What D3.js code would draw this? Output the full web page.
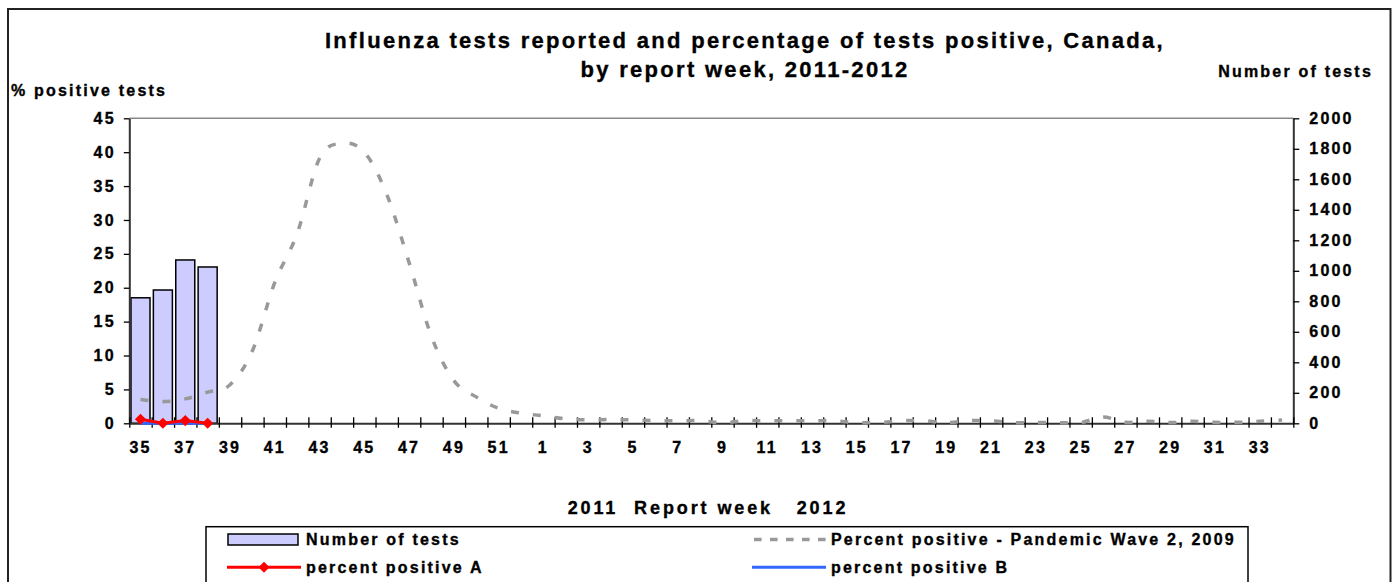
<!DOCTYPE html>
<html>
<head>
<meta charset="utf-8">
<script src="https://cdn.jsdelivr.net/npm/d3@7"></script>
<style>
    body { margin: 0; background: #fff; }
    text { font-family: "Liberation Sans", Arial, sans-serif; font-weight: bold; fill: #000; letter-spacing: 2.2px;
        stroke: #000; stroke-width: 0.35px; }
</style>
</head>
<body>
<script>
// report weeks, 2011 (35-52) then 2012 (1-34)
var weeks = [35, 36, 37, 38, 39, 40, 41, 42, 43, 44, 45, 46, 47, 48, 49, 50, 51, 52,
    1, 2, 3, 4, 5, 6, 7, 8, 9, 10, 11, 12, 13, 14, 15, 16, 17, 18, 19, 20,
    21, 22, 23, 24, 25, 26, 27, 28, 29, 30, 31, 32, 33, 34];
var weekLabels = [35, 37, 39, 41, 43, 45, 47, 49, 51, 1, 3, 5, 7, 9, 11, 13, 15, 17,
    19, 21, 23, 25, 27, 29, 31, 33];
// only the first four weeks are reported so far
var numTests = [823, 874, 1071, 1025];
var pctA = [0.6, 0, 0.4, 0];
var pctB = [0, 0, 0, 0];
var pandemic2009 = [3.5, 3.2, 3.6, 4.6, 5.7, 10.7, 20.8, 28.0, 39.1, 41.3, 40.0, 33.8, 23.7, 12.8, 6.3, 3.9, 2.2, 1.5,
    1.1, 0.65, 0.5, 0.55, 0.5, 0.4, 0.38, 0.38, 0.1, 0.38, 0.38, 0.38, 0.38, 0.38, 0.1, 0.1, 0.38, 0.38, 0.1,
    0.38, 0.38, 0.1, 0.1, 0.1, 0.1, 0.93, 0.15, 0.3, 0.1, 0.3, 0.15, 0.15, 0.3, 0.5];
var leftTicks = [0, 5, 10, 15, 20, 25, 30, 35, 40, 45];
var rightTicks = [0, 200, 400, 600, 800, 1000, 1200, 1400, 1600, 1800, 2000];

window.onload = function () {
    var width = 1393;
    var height = 582;
    var plot = {left: 129.3, right: 1293.3, top: 118.3, bottom: 423.3};

    var svg = d3.select("body")
        .append("svg")
        .attr("width", width)
        .attr("height", height);

    // chart frame
    svg.append("rect")
        .attr("x", 8).attr("y", 9)
        .attr("width", 1382.5).attr("height", 620)
        .style("fill", "none").style("stroke", "#222").style("stroke-width", 2);

    var x = d3.scaleBand()
        .domain(weeks)
        .range([plot.left, plot.right])
        .paddingInner(0.15)
        .paddingOuter(0.075);
    var xi = d3.scaleLinear().domain([0, weeks.length]).range([plot.left, plot.right]);
    var yLeft = d3.scaleLinear().domain([0, 45]).range([plot.bottom, plot.top]);
    var yRight = d3.scaleLinear().domain([0, 2000]).range([plot.bottom, plot.top]);
    var cx = function (i) { return x(weeks[i]) + x.bandwidth() / 2; };

    // top border of plot area
    svg.append("line")
        .attr("x1", plot.left).attr("x2", plot.right)
        .attr("y1", plot.top).attr("y2", plot.top)
        .style("stroke", "#888").style("stroke-width", 1.5);

    // bars
    svg.selectAll("rect.bar")
        .data(numTests)
        .enter()
        .append("rect")
        .attr("class", "bar")
        .attr("x", function (d, i) { return x(weeks[i]); })
        .attr("y", function (d) { return yRight(d); })
        .attr("width", x.bandwidth())
        .attr("height", function (d) { return plot.bottom - yRight(d); })
        .style("fill", "#ccccff")
        .style("stroke", "#000")
        .style("stroke-width", 1.5);

    // axes
    var gLeft = svg.append("g")
        .attr("transform", "translate(" + plot.left + ",0)")
        .call(d3.axisLeft(yLeft).tickValues(leftTicks).tickSize(5.5).tickSizeOuter(0).tickPadding(8));
    var gRight = svg.append("g")
        .attr("transform", "translate(" + plot.right + ",0)")
        .call(d3.axisRight(yRight).tickValues(rightTicks).tickFormat(d3.format("d"))
            .tickSize(6).tickSizeOuter(0).tickPadding(10));
    var gBottom = svg.append("g")
        .attr("transform", "translate(0," + plot.bottom + ")")
        .call(d3.axisBottom(xi).tickValues(d3.range(weeks.length + 1)).tickSize(4.5).tickSizeOuter(0).tickFormat(""));
    gBottom.selectAll(".tick line").attr("y1", -6);
    var gLabels = svg.append("g")
        .attr("transform", "translate(0," + plot.bottom + ")")
        .call(d3.axisBottom(x).tickValues(weekLabels).tickSize(0).tickPadding(18));
    gLabels.select(".domain").remove();

    [gLeft, gRight, gBottom].forEach(function (g) {
        g.select(".domain").style("stroke", "#333").style("stroke-width", 2);
        g.selectAll(".tick line").style("stroke", "#000").style("stroke-width", 1.3);
    });
    svg.selectAll(".tick text")
        .style("font-size", "16px")
        .style("font-family", "'Liberation Sans', Arial, sans-serif")
        .style("font-weight", "bold");

    // pandemic wave 2 (2009) reference curve
    var smooth = d3.line()
        .x(function (d, i) { return cx(i); })
        .y(function (d) { return yLeft(d); })
        .curve(d3.curveCardinal.tension(0));
    svg.append("path")
        .attr("d", smooth(pandemic2009))
        .style("fill", "none")
        .style("stroke", "#999")
        .style("stroke-width", 3.5)
        .style("stroke-dasharray", "8,14");

    var straight = d3.line()
        .x(function (d, i) { return cx(i); })
        .y(function (d) { return yLeft(d); });
    svg.append("path")
        .attr("d", straight(pctB))
        .style("fill", "none").style("stroke", "#3366ff").style("stroke-width", 3);
    svg.append("path")
        .attr("d", straight(pctA))
        .style("fill", "none").style("stroke", "#ff0000").style("stroke-width", 3);

    var diamond = d3.symbol().type(d3.symbolSquare).size(62);
    svg.selectAll("path.markA")
        .data(pctA)
        .enter()
        .append("path")
        .attr("class", "markA")
        .attr("d", diamond)
        .attr("transform", function (d, i) {
            return "translate(" + cx(i) + "," + yLeft(d) + ") rotate(45)";
        })
        .style("fill", "#ff0000");

    // titles
    svg.append("text").attr("x", 745).attr("y", 48).attr("text-anchor", "middle")
        .style("font-size", "22px").style("letter-spacing", "2.3px")
        .text("Influenza tests reported and percentage of tests positive, Canada,");
    svg.append("text").attr("x", 745).attr("y", 77).attr("text-anchor", "middle")
        .style("font-size", "22px").style("letter-spacing", "2.3px")
        .text("by report week, 2011-2012");
    svg.append("text").attr("x", 11).attr("y", 96)
        .style("font-size", "16px")
        .text("% positive tests");
    svg.append("text").attr("x", 1373).attr("y", 77).attr("text-anchor", "end")
        .style("font-size", "16px")
        .text("Number of tests");
    svg.append("text").attr("x", 708).attr("y", 514).attr("text-anchor", "middle")
        .style("font-size", "18px").style("letter-spacing", "2.9px").style("white-space", "pre")
        .text("2011  Report week   2012");

    // legend
    svg.append("rect")
        .attr("x", 206).attr("y", 526.7)
        .attr("width", 1042).attr("height", 90)
        .style("fill", "#fff").style("stroke", "#000").style("stroke-width", 1.5);

    var lg = svg.append("g");
    lg.append("rect")
        .attr("x", 228).attr("y", 534).attr("width", 70).attr("height", 11)
        .style("fill", "#ccccff").style("stroke", "#000").style("stroke-width", 1.5);
    lg.append("text").attr("x", 306).attr("y", 545).style("font-size", "16px").text("Number of tests");

    lg.append("line")
        .attr("x1", 754).attr("x2", 826).attr("y1", 539.5).attr("y2", 539.5)
        .style("stroke", "#999").style("stroke-width", 3.5).style("stroke-dasharray", "7.6,8.4");
    lg.append("text").attr("x", 831).attr("y", 545).style("font-size", "16px")
        .text("Percent positive - Pandemic Wave 2, 2009");

    lg.append("line")
        .attr("x1", 227).attr("x2", 301).attr("y1", 567.3).attr("y2", 567.3)
        .style("stroke", "#ff0000").style("stroke-width", 3);
    lg.append("path")
        .attr("d", diamond)
        .attr("transform", "translate(264,567.3) rotate(45)")
        .style("fill", "#ff0000");
    lg.append("text").attr("x", 306).attr("y", 573).style("font-size", "16px").text("percent positive A");

    lg.append("line")
        .attr("x1", 752).attr("x2", 826).attr("y1", 567.3).attr("y2", 567.3)
        .style("stroke", "#3366ff").style("stroke-width", 3);
    lg.append("text").attr("x", 831).attr("y", 573).style("font-size", "16px").text("percent positive B");
}
</script>
</body>
</html>
